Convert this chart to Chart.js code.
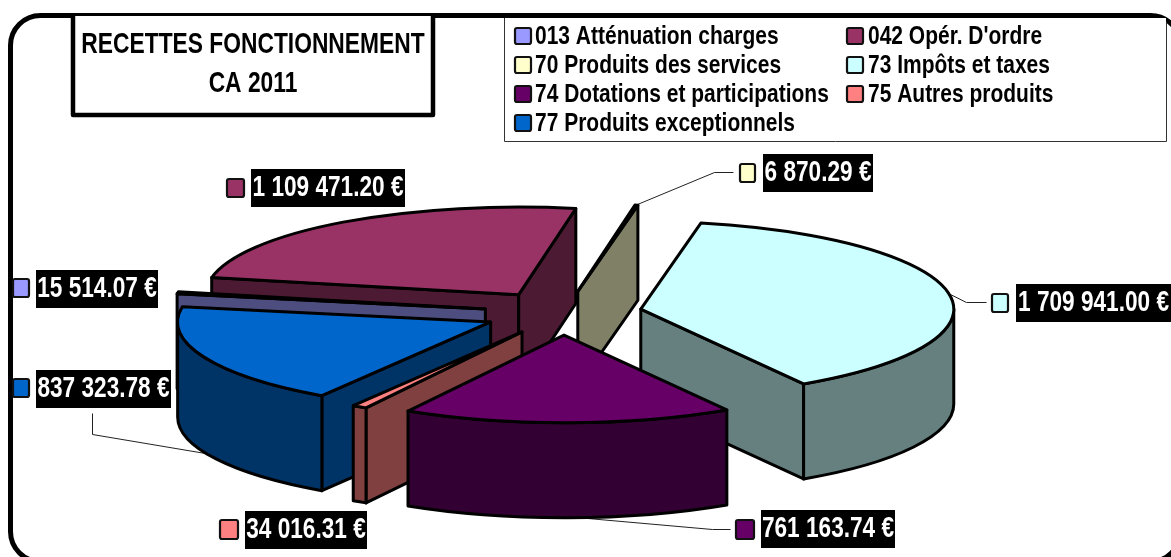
<!DOCTYPE html>
<html>
<head>
<meta charset="utf-8">
<style>html,body{margin:0;padding:0;background:#fff}canvas{display:block}</style>
<script src="https://cdn.jsdelivr.net/npm/chart.js@4/dist/chart.umd.min.js"></script>
</head>
<body>
<canvas id="c" width="1171" height="557"></canvas>
<script>
const categories = ["013 Atténuation charges","042 Opér. D'ordre","70 Produits des services","73 Impôts et taxes","74 Dotations et participations","75 Autres produits","77 Produits exceptionnels"];
const values = [15514.07,1109471.20,6870.29,1709941.00,761163.74,34016.31,837323.78];
const titleLines = ["RECETTES FONCTIONNEMENT","CA 2011"];
const topColors = ["#9999FF","#993366","#FFFFCC","#CCFFFF","#660066","#FF8080","#0066CC"];
const wallColors = ["#4D4D80","#4D1A33","#808066","#668080","#330033","#804040","#003366"];
const paintOrder = [1,2,3,0,6,5,4];

const FONT = '"Liberation Sans"';
const SQUASH = 0.28, EXPLODE = 79, DEPTH = 95, RADIUS = 313;
const labelBoxes = [
  {m:[12,278,18,20],  r:[36,270,122,38]},
  {m:[226,178,19,20], r:[251,169,154,38]},
  {m:[739,163,17,20], r:[763,154,110,38]},
  {m:[991,293,18,20], r:[1016,284,155,38]},
  {m:[735,519,20,21], r:[761,510,134,38]},
  {m:[219,519,20,21], r:[245,511,122,38]},
  {m:[12,378,18,20],  r:[36,370,135,38]}
];
const leaders = [
  [[637,204],[714,172],[733,172]],
  [[950,294],[966,302],[986,302]],
  [[576,517],[712,529],[730,529]],
  [[92,413],[92,434],[205,453]]
];
const legendCells = [[514,535,36],[846,868,36],[514,535,65],[846,868,65],[514,535,94],[846,868,94],[514,535,123]];

function money(v){
  const [a,b] = v.toFixed(2).split('.');
  return a.replace(/\B(?=(\d{3})+(?!\d))/g,' ') + '.' + b + ' €';
}
function rr(ctx,x,y,w,h,r){ctx.beginPath();ctx.roundRect(x,y,w,h,r);}
function marker(ctx,x,y,w,h,color){
  rr(ctx,x+1,y+1,w-2,h-2,2);
  ctx.fillStyle=color;ctx.fill();
  ctx.lineWidth=2.2;ctx.strokeStyle='#111';ctx.stroke();
}
function narrowText(ctx,t,x,y,ratio){ctx.fillText(t,x,y,ctx.measureText(t).width*ratio);}

const pie3d = {
  id:'pie3d',
  beforeDatasetsDraw(chart){
    const ctx = chart.ctx, arcs = chart.getDatasetMeta(0).data;
    ctx.save();
    ctx.strokeStyle='#222';ctx.lineWidth=1;
    leaders.forEach(l=>{ctx.beginPath();l.forEach((p,i)=>i?ctx.lineTo(p[0]+.5,p[1]+.5):ctx.moveTo(p[0]+.5,p[1]+.5));ctx.stroke();});
    ctx.lineWidth=3;ctx.strokeStyle='#000';ctx.lineJoin='round';
    const TAU=2*Math.PI;
    paintOrder.forEach(i=>{
      const a=arcs[i], s=a.startAngle, e=a.endAngle, R=a.outerRadius, mid=(s+e)/2;
      const ox=a.x+Math.cos(mid)*EXPLODE, oy=a.y+Math.sin(mid)*EXPLODE*SQUASH, ry=R*SQUASH;
      const px=t=>ox+R*Math.cos(t), py=t=>oy+ry*Math.sin(t);
      ctx.fillStyle=wallColors[i];
      const quad=t=>{
        ctx.beginPath();ctx.moveTo(ox,oy);ctx.lineTo(px(t),py(t));ctx.lineTo(px(t),py(t)+DEPTH);ctx.lineTo(ox,oy+DEPTH);ctx.closePath();ctx.fill();ctx.stroke();
      };
      if(-Math.cos(s)>0) quad(s);
      if(Math.cos(e)>0) quad(e);
      // outer curved wall: only the part of the rim that faces the viewer
      let s1=s;while(s1<0)s1+=TAU;while(s1>=TAU)s1-=TAU;
      const e1=s1+(e-s);
      [[0,Math.PI],[TAU,TAU+Math.PI]].forEach(([lo,hi])=>{
        const from=Math.max(s1,lo), to=Math.min(e1,hi);
        if(to>from){
          ctx.beginPath();
          ctx.ellipse(ox,oy,R,ry,0,from,to);
          ctx.ellipse(ox,oy+DEPTH,R,ry,0,to,from,true);
          ctx.closePath();ctx.fill();ctx.stroke();
        }
      });
      // top face: the library's own arc, flattened
      ctx.save();
      ctx.translate(ox,oy);ctx.scale(1,SQUASH);ctx.translate(-a.x,-a.y);
      a.draw(ctx);
      ctx.restore();
      ctx.beginPath();ctx.moveTo(ox,oy);ctx.ellipse(ox,oy,R,ry,0,s,e);ctx.closePath();ctx.stroke();
    });
    ctx.restore();
    return false;
  },
  afterDraw(chart){
    const ctx=chart.ctx;
    ctx.save();
    rr(ctx,10.5,15.5,1170,546,30);ctx.lineWidth=5;ctx.strokeStyle='#000';ctx.stroke();
    ctx.fillStyle='#fff';ctx.fillRect(73,16,359,99);
    ctx.lineWidth=4.5;ctx.strokeStyle='#000';ctx.lineJoin='round';
    ctx.beginPath();ctx.moveTo(73,16);ctx.lineTo(73,115);ctx.lineTo(433,115);ctx.lineTo(433,16);ctx.stroke();
    ctx.fillStyle='#000';ctx.textAlign='center';ctx.textBaseline='middle';
    ctx.font='bold 30px '+FONT;
    titleLines.forEach((t,i)=>narrowText(ctx,t,253,45+i*39,0.76));
    ctx.fillStyle='#fff';ctx.fillRect(504,18,662,123);
    ctx.lineWidth=1;ctx.strokeStyle='#333';
    ctx.beginPath();ctx.moveTo(504.5,18);ctx.lineTo(504.5,141.5);ctx.lineTo(1166.5,141.5);ctx.lineTo(1166.5,22);ctx.stroke();
    ctx.textAlign='left';ctx.font='bold 26px '+FONT;
    categories.forEach((c,i)=>{
      const [mx,tx,y]=legendCells[i];
      marker(ctx,mx,y-9,18,18,topColors[i]);
      ctx.fillStyle='#000';narrowText(ctx,c,tx,y+1,0.807);
    });
    ctx.font='bold 29px '+FONT;
    values.forEach((v,i)=>{
      const b=labelBoxes[i];
      ctx.fillStyle='#000';ctx.fillRect(b.r[0],b.r[1],b.r[2],b.r[3]);
      ctx.fillStyle='#fff';ctx.textAlign='center';
      narrowText(ctx,money(v),b.r[0]+b.r[2]/2,b.r[1]+b.r[3]/2,0.78);
      marker(ctx,b.m[0],b.m[1],b.m[2],b.m[3],topColors[i]);
    });
    ctx.restore();
  }
};

new Chart(document.getElementById('c'),{
  type:'pie',
  data:{labels:categories,datasets:[{data:values,backgroundColor:topColors,borderWidth:0,radius:RADIUS}]},
  options:{
    responsive:false,animation:false,devicePixelRatio:1,
    rotation:-80,
    layout:{padding:{left:0,right:45,top:69,bottom:0}},
    events:[],
    plugins:{legend:{display:false},tooltip:{enabled:false},title:{display:false}}
  },
  plugins:[pie3d]
});
</script>
</body>
</html>
